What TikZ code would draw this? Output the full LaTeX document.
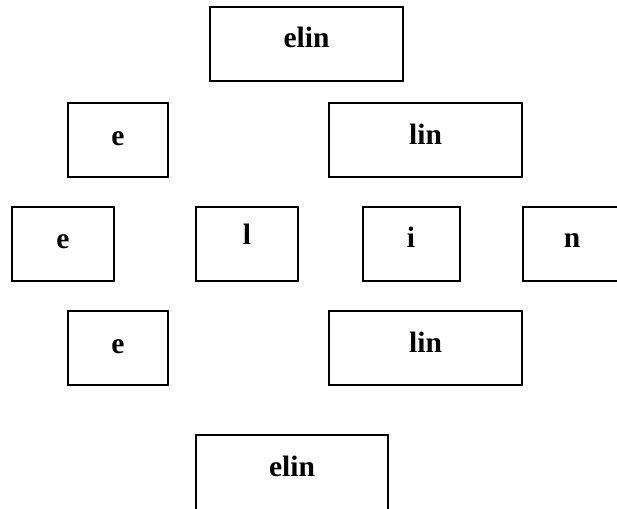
\documentclass[tikz,border=0pt]{standalone}
\usepackage{fontspec}
\setmainfont{Liberation Serif}
\begin{document}
\begin{tikzpicture}[x=1pt,y=-1pt,
  box/.style={draw=black,line width=1.6pt,inner sep=0pt,minimum height=74pt},
  lbl/.style={anchor=base,inner sep=0pt,font=\fontsize{29.5}{30}\selectfont\bfseries}]
\useasboundingbox (0,0) rectangle (617,508);
\node[box,minimum width=193pt] (b1) at (306.5,44) {};
\node[lbl] (t1) at (306.5,48) {elin};
\node[box,minimum width=100pt] (b2) at (118,140) {};
\node[lbl] (t2) at (118,145) {e};
\node[box,minimum width=193pt] (b3) at (425.5,140) {};
\node[lbl] (t3) at (425.5,144) {lin};
\node[box,minimum width=102pt] (b4) at (63,244) {};
\node[lbl] (t4) at (63,248) {e};
\node[box,minimum width=102pt] (b5) at (247,244) {};
\node[lbl] (t5) at (247,244) {l};
\node[box,minimum width=97pt] (b6) at (411.5,244) {};
\node[lbl] (t6) at (411,247) {i};
\node[box,minimum width=99pt] (b7) at (572.5,244) {};
\node[lbl] (t7) at (572,247) {n};
\node[box,minimum width=100pt] (b8) at (118,348) {};
\node[lbl] (t8) at (118,353) {e};
\node[box,minimum width=193pt] (b9) at (425.5,348) {};
\node[lbl] (t9) at (425.5,352) {lin};
\node[box,minimum width=192pt,minimum height=78pt] (b10) at (292,474) {};
\node[lbl] (t10) at (292,476) {elin};
\end{tikzpicture}
\end{document}
